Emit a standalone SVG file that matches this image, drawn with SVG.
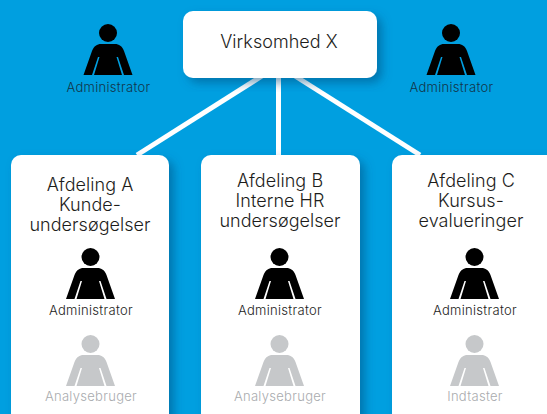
<svg xmlns="http://www.w3.org/2000/svg" width="547" height="414" viewBox="0 0 547 414">
<style>
text{font-family:"Inter","Liberation Sans",sans-serif;text-anchor:middle;font-weight:300}
.t{font-size:18px;fill:#1d1d1b;letter-spacing:.05px}
.a{font-size:13px;fill:#1d1d1b;letter-spacing:.3px}
.b{fill:#12354a}
.g{font-size:13px;fill:#a9abae;letter-spacing:.3px}
.card{fill:#fff;filter:url(#sh)}
.conn{stroke:#fff;stroke-width:5;fill:none}
.grey{fill:#c6c8ca}
</style>
<defs>
<filter id="sh" x="-20%" y="-20%" width="140%" height="140%"><feDropShadow dx="5" dy="5" stdDeviation="5" flood-color="#004a7c" flood-opacity=".5"/></filter>
<g id="person">
<circle cx="0" cy="-42" r="9"/>
<path d="M-24.500 0 L-16 -24 C-14 -29 -11 -31 -7 -31 H7 C11 -31 14 -29 16 -24 L24.500 0 H16 L10 -18 L8.500 -18 L14 0 H-14 L-8.500 -18 L-10 -18 L-16 0 Z"/>
</g>
</defs>
<rect width="547" height="414" fill="#009fe0"/>
<g id="connectors">
<path class="conn" d="M262 76L137 155"/>
<path class="conn" d="M278.500 76V155"/>
<path class="conn" d="M295 76L420 155"/>
</g>
<g id="virksomhed"><rect class="card" x="183" y="11" width="194" height="67" rx="10"/><text class="t" x="279" y="48">Virksomhed X</text></g>
<g id="admin-left"><use href="#person" x="108" y="75"/><text class="a b" x="108.500" y="92">Administrator</text></g>
<g id="admin-right"><use href="#person" x="451" y="75"/><text class="a b" x="451.500" y="92">Administrator</text></g>
<g id="afdeling-a"><rect class="card" x="11" y="155" width="158" height="275" rx="10"/>
<text class="t" x="90" y="191">Afdeling A</text><text class="t" x="90" y="211">Kunde-</text><text class="t" x="90" y="231">undersøgelser</text>
<use href="#person" x="90.500" y="299"/><text class="a" x="91" y="315">Administrator</text>
<use href="#person" x="90.500" y="386" class="grey"/><text class="g" x="91" y="401">Analysebruger</text></g>
<g id="afdeling-b"><rect class="card" x="201" y="155" width="159" height="275" rx="10"/>
<text class="t" x="280" y="187">Afdeling B</text><text class="t" x="280" y="207">Interne HR</text><text class="t" x="280" y="227">undersøgelser</text>
<use href="#person" x="279.500" y="299"/><text class="a" x="280" y="315">Administrator</text>
<use href="#person" x="279.500" y="386" class="grey"/><text class="g" x="280" y="401">Analysebruger</text></g>
<g id="afdeling-c"><rect class="card" x="392" y="155" width="170" height="275" rx="10"/>
<text class="t" x="471" y="187">Afdeling C</text><text class="t" x="471" y="207">Kursus-</text><text class="t" x="471" y="227">evalueringer</text>
<use href="#person" x="474.500" y="299"/><text class="a" x="475" y="315">Administrator</text>
<use href="#person" x="474.500" y="386" class="grey"/><text class="g" x="475" y="401">Indtaster</text></g>
</svg>
